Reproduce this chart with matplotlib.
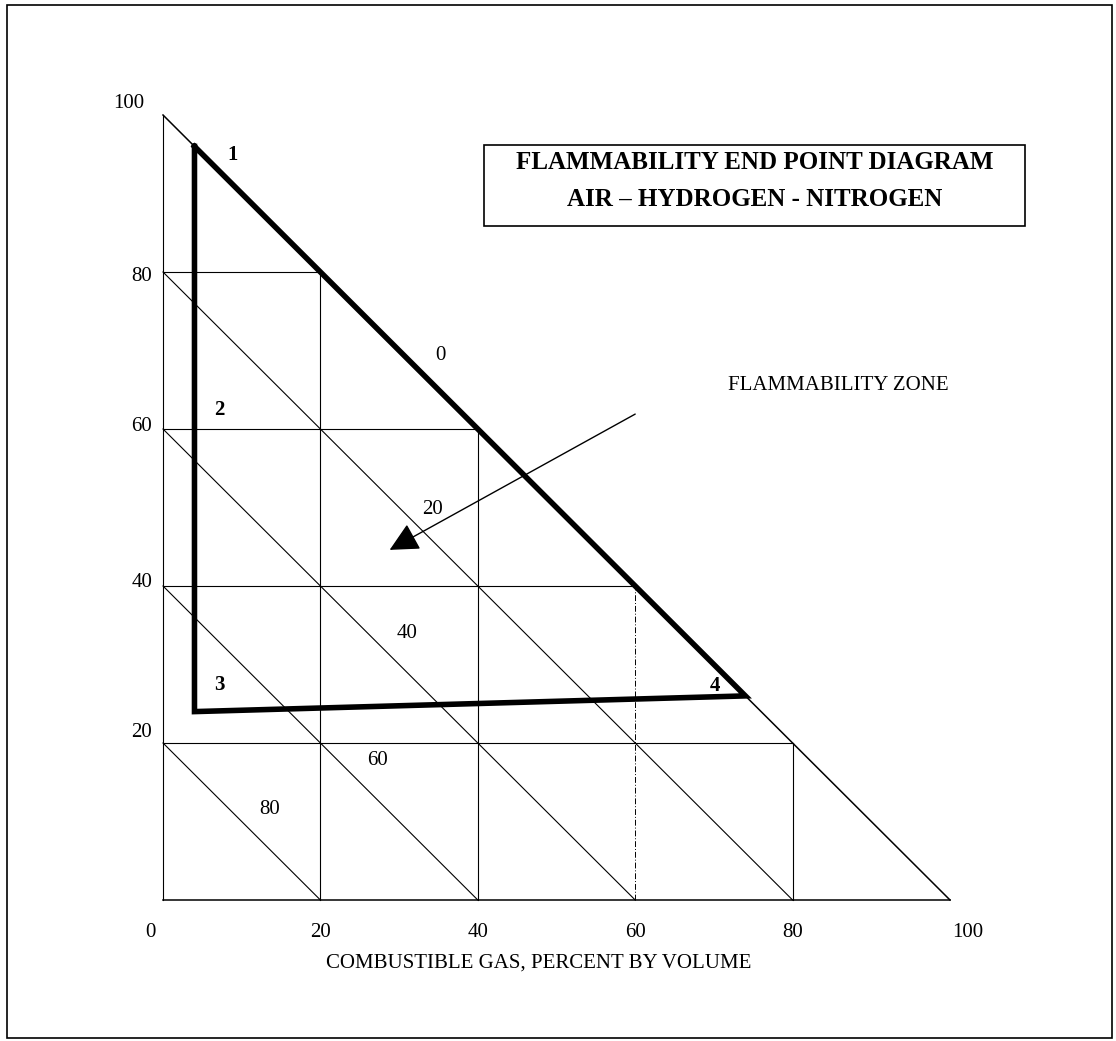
import matplotlib
matplotlib.use("Agg")
import matplotlib.pyplot as plt
from matplotlib.patches import Rectangle

# grid levels (percent)
levels = [20, 40, 60, 80]
x_ticks = [0, 20, 40, 60, 80, 100]
y_ticks = [20, 40, 60, 80, 100]

# end points of the flammability zone (combustible %, air %)
pt_names = ["1", "2", "3", "4"]
pt_x = [4, 4, 4, 74]
pt_y = [96, 60, 24, 26]
# label positions for the end point numbers
lab_x = [8.9, 7.2, 7.2, 70.1]
lab_y = [94.9, 62.4, 27.4, 27.3]

# nitrogen percentage labels on the diagonals
n2_labels = ["0", "20", "40", "60", "80"]
n2_x = [35.3, 34.3, 31.0, 27.3, 13.6]
n2_y = [69.4, 49.7, 34.0, 17.8, 11.5]

# arrow from the zone label into the zone
arrow_from = (60.0, 61.9)
arrow_to = (28.8, 44.6)

title_lines = ["FLAMMABILITY END POINT DIAGRAM", "AIR \u2013 HYDROGEN - NITROGEN"]

plt.rcParams['font.family'] = ['Liberation Serif', 'DejaVu Serif']

fig = plt.figure(figsize=(11.16, 10.41), dpi=100)
ax = fig.add_axes([0, 0, 1, 1])
ax.set_xlim(-163 / 7.87, (1116 - 163) / 7.87)
ax.set_ylim((900 - 1041) / 7.85, 900 / 7.85)
ax.axis("off")

# outer frame of the page
fig.patches.append(Rectangle((7 / 1116, 3 / 1041), 1105 / 1116, 1033 / 1041,
                             transform=fig.transFigure, fill=False,
                             lw=1.2, ec="black"))

thin = dict(color="black", lw=0.8)

# triangle outline
ax.plot([0, 0], [0, 100], **thin)
ax.plot([0, 100], [0, 0], color="black", lw=1.1)
ax.plot([0, 100], [100, 0], color="black", lw=1.1)

for v in levels:
    ax.plot([0, 100 - v], [v, v], **thin)          # horizontal
    if v == 60:
        ax.plot([v, v], [0, 100 - v], color="black", lw=0.7,
                ls=(0, (6, 2, 1, 2)))             # vertical
    else:
        ax.plot([v, v], [0, 100 - v], **thin)
    ax.plot([0, v], [v, 0], **thin)                 # diagonal

# flammability zone boundary
ax.plot(pt_x[:3] + [pt_x[3], pt_x[0]], pt_y[:3] + [pt_y[3], pt_y[0]],
        color="black", lw=4.0, solid_joinstyle="miter")

for name, lx, ly in zip(pt_names, lab_x, lab_y):
    ax.text(lx, ly, name, fontsize=15, fontweight="bold",
            ha="center", va="center")

for s, tx, ty in zip(n2_labels, n2_x, n2_y):
    ax.text(tx, ty, s, fontsize=15, ha="center", va="center")

# tick labels
x_off = {0: -1.6, 100: 102.3}
for t in x_ticks:
    ax.text(x_off.get(t, t), -4.2, str(t), fontsize=15, ha="center", va="center")
y_off = {100: 101.5, 80: 79.4, 60: 60.3, 40: 40.4, 20: 21.3}
for t in y_ticks:
    xpos = -4.4 if t == 100 else -2.7
    ax.text(xpos, y_off[t], str(t), fontsize=15, ha="center", va="center")

ax.text(47.7, -8.0, "COMBUSTIBLE GAS, PERCENT BY VOLUME", fontsize=15,
        ha="center", va="center")

# title box
ax.add_patch(Rectangle((40.8, 85.9), 68.7, 10.3, fill=False, ec="black", lw=1.2))
ax.text(75.2, 93.9, title_lines[0], fontsize=18, fontweight="bold",
        ha="center", va="center")
ax.text(75.2, 89.2, title_lines[1], fontsize=18, fontweight="bold",
        ha="center", va="center")

ax.text(85.8, 65.5, "FLAMMABILITY ZONE", fontsize=15, ha="center", va="center")
ax.annotate("", xy=arrow_to, xytext=arrow_from,
            arrowprops=dict(arrowstyle="-|>,head_length=0.9,head_width=0.45",
                            color="black", lw=1.0, shrinkA=0, shrinkB=0,
                            mutation_scale=20))

fig.savefig("out.png", dpi=100)
